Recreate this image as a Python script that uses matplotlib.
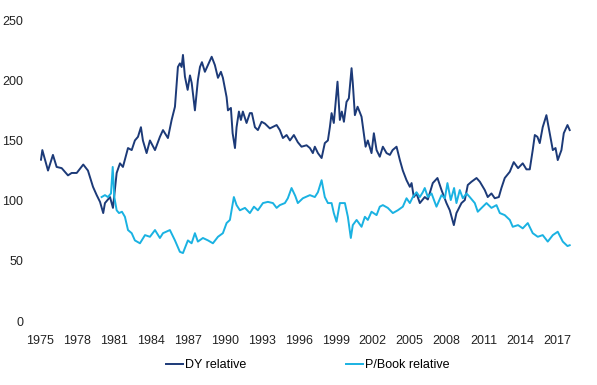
import matplotlib
matplotlib.use("Agg")
import matplotlib.pyplot as plt

plt.rcParams['font.family'] = ['Liberation Sans', 'DejaVu Sans']

dy_years = [1975.08, 1975.19, 1975.65, 1976.05, 1976.35, 1976.76, 1977.27, 1977.57, 1977.98,
            1978.51, 1978.89, 1979.30, 1979.60, 1979.87, 1980.13, 1980.27, 1980.68, 1980.92,
            1981.22, 1981.49, 1981.73, 1982.14, 1982.44, 1982.70, 1982.95, 1983.19, 1983.35,
            1983.65, 1983.92, 1984.33, 1984.73, 1984.98, 1985.14, 1985.38, 1985.68, 1985.95,
            1986.19, 1986.35, 1986.49, 1986.60, 1986.76, 1986.98, 1987.17, 1987.31, 1987.57,
            1987.81, 1987.98, 1988.14, 1988.38, 1988.63, 1988.93, 1989.19, 1989.44, 1989.68,
            1989.84, 1990.14, 1990.25, 1990.49, 1990.63, 1990.82, 1990.95, 1991.14, 1991.30,
            1991.46, 1991.76, 1992.03, 1992.19, 1992.44, 1992.68, 1992.98, 1993.25, 1993.65,
            1994.20, 1994.46, 1994.71, 1995.01, 1995.28, 1995.60, 1995.92, 1996.22, 1996.63,
            1996.90, 1997.14, 1997.30, 1997.55, 1997.85, 1998.11, 1998.36, 1998.52, 1998.66,
            1998.84, 1999.14, 1999.33, 1999.49, 1999.66, 1999.87, 2000.06, 2000.28, 2000.38,
            2000.55, 2000.77, 2001.09, 2001.42, 2001.60, 2001.90, 2002.09, 2002.31, 2002.57,
            2002.82, 2003.12, 2003.39, 2003.61, 2003.93, 2004.20, 2004.44, 2004.74, 2005.01,
            2005.15, 2005.33, 2005.55, 2005.82, 2006.22, 2006.47, 2006.87, 2007.25, 2007.58,
            2007.98, 2008.25, 2008.58, 2008.79, 2009.20, 2009.47, 2009.71, 2010.01, 2010.42,
            2010.69, 2011.09, 2011.33, 2011.63, 2011.90, 2012.23, 2012.44, 2012.71, 2013.12,
            2013.44, 2013.79, 2014.17, 2014.47, 2014.74, 2014.98, 2015.15, 2015.36, 2015.55,
            2015.79, 2016.09, 2016.36, 2016.61, 2016.83, 2017.01, 2017.31, 2017.50, 2017.80,
            2017.98]
dy_values = [134, 142, 125, 138, 128, 127, 121, 123, 123,
             130, 125, 111.5, 104.6, 99, 89.7, 98, 103, 94,
             123, 131, 128, 143.7, 142, 150, 153, 161, 150,
             139.5, 150, 142, 153, 158.6, 156, 152, 167, 178,
             211, 214, 211, 221, 203, 192, 204, 197.7, 175,
             200, 211, 215, 207, 212.6, 219.5, 212.6, 202, 207,
             202, 186, 175, 177, 156, 143.7, 161, 174, 167,
             174, 164.5, 172.7, 172.7, 161, 158.6, 165.5, 164, 160,
             162.8, 158.6, 152, 154.5, 150, 154.5, 148.5, 144.8, 146,
             143.7, 139.5, 144.8, 139.5, 135.4, 147.8, 150, 161, 172.7,
             164.5, 198.8, 167, 174, 165.5, 182, 185, 210, 197.7,
             171, 178, 169.7, 144.8, 150, 139.5, 156, 142, 136.5,
             144.8, 139.5, 138, 142, 144.8, 133.7, 125, 117, 111.5,
             114.6, 103, 106, 98, 103, 101, 114.6, 118.8, 108.8,
             98, 92, 79.7, 89.7, 98, 100.5, 113, 115.7, 118.8,
             115.7, 108.8, 103, 106, 102, 103, 110.5, 118.8, 124,
             132, 127, 131, 126, 126, 142, 154.5, 153, 147.8,
             161, 171, 156, 142, 143.7, 133.7, 142, 156, 162.8,
             158.6]

pb_years = [1980.00, 1980.27, 1980.51, 1980.76, 1980.90, 1981.03, 1981.22, 1981.41, 1981.65,
            1981.89, 1982.14, 1982.44, 1982.70, 1983.11, 1983.52, 1983.92, 1984.33, 1984.73,
            1984.98, 1985.54, 1985.95, 1986.35, 1986.60, 1987.00, 1987.30, 1987.57, 1987.81,
            1988.22, 1988.63, 1989.03, 1989.44, 1989.84, 1990.14, 1990.41, 1990.73, 1990.95,
            1991.22, 1991.63, 1992.03, 1992.36, 1992.68, 1993.09, 1993.49, 1993.90, 1994.20,
            1994.46, 1994.87, 1995.11, 1995.41, 1995.71, 1995.92, 1996.33, 1996.90, 1997.30,
            1997.55, 1997.85, 1998.11, 1998.36, 1998.66, 1998.84, 1999.06, 1999.33, 1999.74,
            1999.98, 2000.22, 2000.38, 2000.69, 2001.09, 2001.36, 2001.60, 2001.90, 2002.31,
            2002.57, 2002.82, 2003.22, 2003.63, 2004.03, 2004.44, 2004.74, 2005.01, 2005.25,
            2005.55, 2005.82, 2006.06, 2006.22, 2006.47, 2006.77, 2007.17, 2007.58, 2007.85,
            2008.06, 2008.33, 2008.60, 2008.79, 2009.06, 2009.31, 2009.61, 2009.87, 2010.28,
            2010.52, 2010.93, 2011.23, 2011.63, 2012.04, 2012.31, 2012.71, 2013.12, 2013.36,
            2013.79, 2014.17, 2014.58, 2014.98, 2015.39, 2015.79, 2016.20, 2016.61, 2017.01,
            2017.42, 2017.80, 2017.98]
pb_values = [103, 104.6, 103, 106, 128, 103, 92, 89.7, 90.8,
             86.6, 75.6, 73, 67, 64.6, 71.4, 70, 75.6, 69,
             73, 75.6, 67, 57.5, 56.5, 67, 64.6, 73, 66,
             69, 67, 64.6, 70, 73, 81.4, 84, 103, 96.3,
             92, 94, 89.7, 95, 92, 98, 99, 98, 94,
             96.3, 98, 102, 110.5, 104, 98, 102, 104.6, 103,
             107, 117, 103, 98, 98, 89.7, 82.5, 98, 98,
             86.6, 69, 79.7, 84, 78.3, 86.6, 84, 90.8, 88,
             95, 96.3, 94, 89.7, 92, 95, 102, 98, 103,
             107, 103, 107, 110.5, 103, 106, 95, 104.6, 102,
             114.6, 100.5, 110.5, 98, 108.8, 102, 106, 103, 98,
             90.8, 95, 98, 94, 96.3, 89.7, 88, 84, 78.3,
             79.7, 77, 81.4, 73, 70, 71.4, 66, 71.4, 74.2,
             66, 62.3, 63]

x_ticks = [1975, 1978, 1981, 1984, 1987, 1990, 1993, 1996, 1999, 2002, 2005, 2008, 2011, 2014, 2017]
y_ticks = [0, 50, 100, 150, 200, 250]

fig = plt.figure(figsize=(5.97, 3.85), dpi=100)
ax = fig.add_axes([0.067, 0.166, 0.898, 0.782])

ax.plot(dy_years, dy_values, color='#1c3a78', lw=1.4, label='DY relative')
ax.plot(pb_years, pb_values, color='#1ab2e2', lw=1.4, label='P/Book relative')

ax.set_xlim(1975, 2018.5)
ax.set_ylim(0, 250)
ax.set_xticks(x_ticks)
ax.set_xticklabels([str(t) for t in x_ticks])
ax.set_yticks(y_ticks)
for s in ax.spines.values():
    s.set_visible(False)
ax.tick_params(axis='both', length=0, labelsize=9, colors='#222222')
ax.tick_params(axis='x', pad=10)
ax.tick_params(axis='y', pad=12)

fig.legend(loc='center', bbox_to_anchor=(0.515, 0.052), ncol=2, frameon=False,
           fontsize=9, handlelength=1.4, handletextpad=0.1, columnspacing=8.0)

fig.savefig('out.png', dpi=100, facecolor='white')
